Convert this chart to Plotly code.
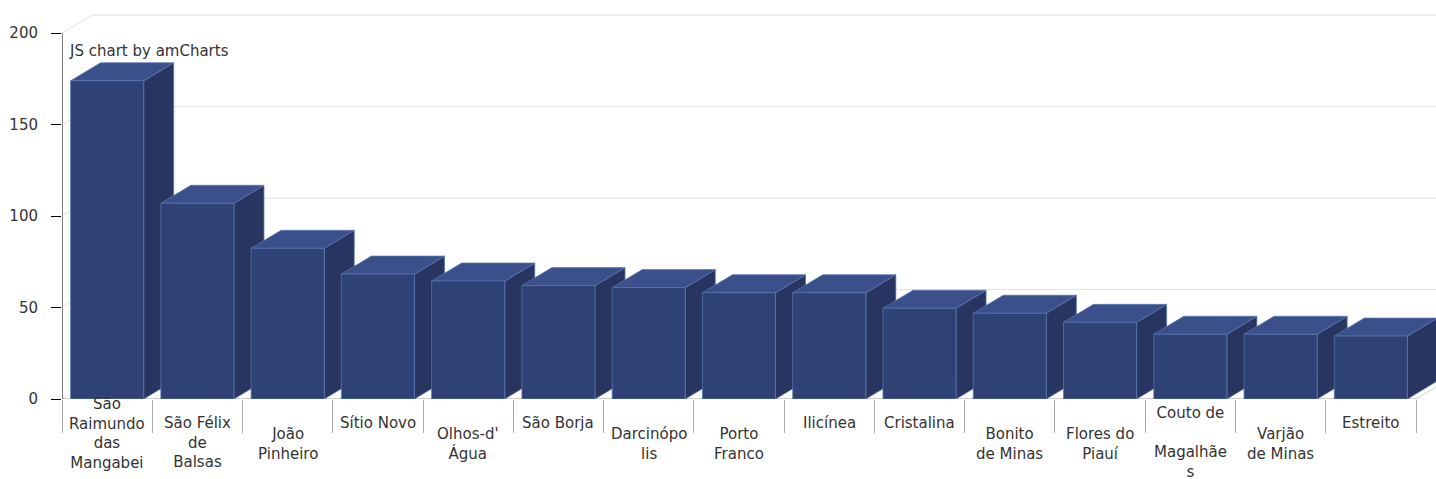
import plotly.graph_objects as go

# Municipalities and their values
cities = [
    "São Raimundo das Mangabeiras", "São Félix de Balsas", "João Pinheiro",
    "Sítio Novo", "Olhos-d'Água", "São Borja", "Darcinópolis", "Porto Franco",
    "Ilicínea", "Cristalina", "Bonito de Minas", "Flores do Piauí",
    "Couto de Magalhães", "Varjão de Minas", "Estreito",
]
values = [174, 107, 82.4, 68.3, 64.5, 62, 60.9, 58.1, 58.1, 49.6, 46.9, 41.9, 35.4, 35.4, 34.4]

# Wrapped category labels as shown under the axis
category_labels = [
    "São<br>Raimundo<br>das<br>Mangabei", "São Félix<br>de<br>Balsas", "João<br>Pinheiro",
    "Sítio Novo", "Olhos-d'<br>Água", "São Borja", "Darcinópo<br>lis", "Porto<br>Franco",
    "Ilicínea", "Cristalina", "Bonito<br>de Minas", "Flores do<br>Piauí",
    "Couto de<br><br>Magalhãe<br>s", "Varjão<br>de Minas", "Estreito",
]
y_ticks = [0, 50, 100, 150, 200]

# ---- geometry (pixels) ----
W, H = 1436, 479
LEFT, BOTTOM = 62, 80
CAT_PX = (1416 - 62) / 15
Y_PX = 1.829
DEPTH_X_PX, DEPTH_Y_PX = 30, 18
BAR_W = 0.81
FONT_SIZE = 15
# vertical offset (px below the axis) of the first label line's centre
label_first_line = [4, 23, 34, 23, 34, 23, 34, 34, 23, 23, 34, 34, 13, 34, 23]

plot_h = H - BOTTOM
plot_w = W - LEFT
x_min = -0.5
x_max = x_min + plot_w / CAT_PX
y_max = plot_h / Y_PX
DX = DEPTH_X_PX / CAT_PX
DY = DEPTH_Y_PX / Y_PX

FRONT = "rgb(47,66,117)"
TOP = "rgb(59,79,139)"
SIDE = "rgb(40,53,96)"
EDGE = "rgba(88,118,176,0.75)"
GRID = "#e2e2e2"
TEXT = "#333333"
FONT = "DejaVu Sans"

fig = go.Figure()


def face(xs, ys, color):
    fig.add_trace(go.Scatter(
        x=xs + [xs[0]], y=ys + [ys[0]], mode="lines", fill="toself",
        fillcolor=color, line=dict(color=EDGE, width=1),
        hoverinfo="skip", showlegend=False,
    ))


# 3D columns, drawn left to right so each front covers the previous side
for i, v in enumerate(values):
    x0, x1 = i - BAR_W / 2, i + BAR_W / 2
    face([x1, x1 + DX, x1 + DX, x1], [0, DY, v + DY, v], SIDE)
    face([x0, x1, x1 + DX, x0 + DX], [v, v, v + DY, v + DY], TOP)
    face([x0, x1, x1, x0], [0, 0, v, v], FRONT)

shapes = []
# back-wall gridlines with the left-wall diagonal
for t in y_ticks:
    shapes.append(dict(type="line", xref="x", yref="y", x0=x_min, y0=t,
                       x1=x_min + DX, y1=t + DY, line=dict(color=GRID, width=1), layer="below"))
    shapes.append(dict(type="line", xref="x", yref="y", x0=x_min + DX, y0=t + DY,
                       x1=x_max, y1=t + DY, line=dict(color=GRID, width=1), layer="below"))
# floor edge at the right end
shapes.append(dict(type="line", xref="x", yref="y", x0=14.5, y0=0, x1=14.5 + DX, y1=DY,
                   line=dict(color="#cfcfcf", width=1), layer="below"))
# value axis line
shapes.append(dict(type="line", xref="x", yref="y", x0=x_min, y0=0, x1=x_min, y1=y_ticks[-1],
                   line=dict(color="#000000", width=1), layer="above"))
# category axis line
shapes.append(dict(type="line", xref="x", yref="y", x0=x_min, y0=0, x1=14.5, y1=0,
                   line=dict(color="#999999", width=1), layer="below"))

annotations = []
for i, lab in enumerate(category_labels):
    annotations.append(dict(
        x=i, xref="x", y=0, yref="paper", text=lab, showarrow=False,
        xanchor="center", yanchor="top", yshift=-(label_first_line[i] - 10),
        font=dict(family=FONT, size=FONT_SIZE, color=TEXT), align="center",
    ))
annotations.append(dict(
    x=x_min, xref="x", y=y_ticks[-1], yref="y", text="JS chart by amCharts",
    showarrow=False, xanchor="left", yanchor="middle", xshift=5, yshift=-18,
    font=dict(family=FONT, size=FONT_SIZE, color=TEXT),
))

fig.update_layout(
    width=W, height=H,
    margin=dict(l=LEFT, r=0, t=0, b=BOTTOM, pad=0),
    paper_bgcolor="white", plot_bgcolor="white",
    shapes=shapes, annotations=annotations,
    xaxis=dict(
        range=[x_min, x_max], showgrid=False, zeroline=False, showline=False,
        tickmode="array", tickvals=[k - 0.5 for k in range(len(values) + 1)],
        ticks="outside", ticklen=33, tickcolor="#aaaaaa", tickwidth=1,
        showticklabels=False,
    ),
    yaxis=dict(
        range=[0, y_max], showgrid=False, zeroline=False, showline=False,
        tickmode="array", tickvals=y_ticks, ticktext=[str(t) for t in y_ticks],
        ticks="outside", ticklen=10, tickcolor="#000000", tickwidth=1,
        ticklabelstandoff=10,
        tickfont=dict(family=FONT, size=FONT_SIZE, color=TEXT),
    ),
)

fig.write_html("out.html")
